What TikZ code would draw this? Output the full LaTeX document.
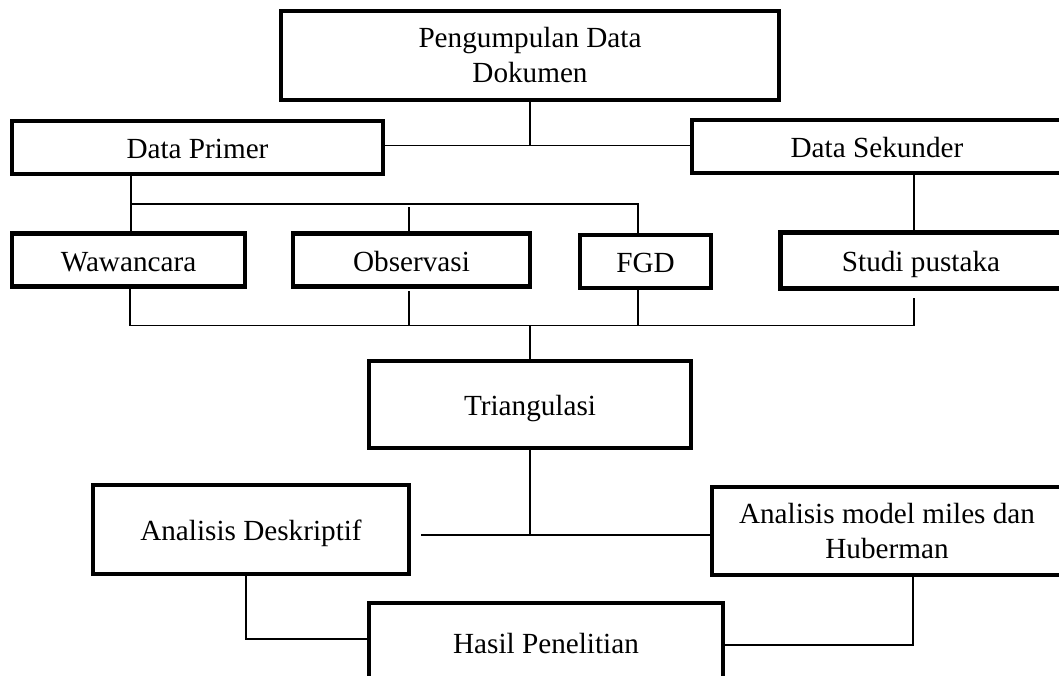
\documentclass[tikz,border=0pt]{standalone}
\usepackage{fontspec}
\setmainfont{Liberation Serif}
\begin{document}
\begin{tikzpicture}[x=1pt,y=-1pt,
  box/.style={draw=black,line width=4.4pt,inner sep=0pt,align=center,
    font=\fontsize{29.2}{35}\selectfont},
  onebox/.style={box,text height=22pt,text depth=0pt},
  conn/.style={draw=black,line width=1.6pt}]
\useasboundingbox (0,0) rectangle (1059,675);
\clip (0,0) rectangle (1059,675);
% boxes
\node[box,minimum width=498pt,minimum height=89pt] (top) at (530,55.5) {Pengumpulan Data\\Dokumen};
\node[onebox,minimum width=371pt,minimum height=53pt] (dp) at (197.5,147.5) {Data Primer};
\node[onebox,minimum width=370pt,minimum height=53pt] (ds) at (877,146.5) {Data Sekunder};
\node[onebox,minimum width=233pt,minimum height=53pt] (ww) at (128.5,260) {Wawancara};
\node[onebox,minimum width=237pt,minimum height=53pt] (ob) at (411.5,260) {Observasi};
\node[onebox,minimum width=131pt,minimum height=53pt] (fgd) at (645.5,261.5) {FGD};
\node[onebox,minimum width=281pt,minimum height=56pt] (sp) at (921,260.5) {Studi pustaka};
\node[onebox,minimum width=322pt,minimum height=87pt] (tri) at (530,404.5) {Triangulasi};
\node[onebox,minimum width=316pt,minimum height=89pt] (ad) at (251,529.5) {Analisis Deskriptif};
\node[box,minimum width=350pt,minimum height=88pt] (am) at (887,531) {Analisis model miles dan\\Huberman};
\node[onebox,minimum width=354pt,minimum height=78pt] (hp) at (546,642) {Hasil Penelitian};
% junction coordinates
\coordinate (j1) at (530,145.5);
\coordinate (b1) at (131,204);
\coordinate (b2) at (638,204);
\coordinate (b3) at (409,207);
\coordinate (c1) at (914,0);
\coordinate (d1) at (130,325.5);
\coordinate (d2) at (914,325.5);
\coordinate (o1) at (409,291);
\coordinate (s1) at (914,297.5);
\coordinate (f1) at (638,0);
\coordinate (t1) at (530,325.5);
\coordinate (t2) at (530,535);
\coordinate (t3) at (421,535);
\coordinate (h1) at (246,639);
\coordinate (h2) at (913,645);
% connectors
\draw[conn] (top.south) -- (j1);
\draw[conn] (dp.east |- j1) -- (ds.west |- j1);
\draw[conn] (dp.south -| b1) -- (ww.north -| b1);
\draw[conn] (b1) -- (b2) -- (fgd.north -| b2);
\draw[conn] (b3) -- (ob.north -| b3);
\draw[conn] (ds.south -| c1) -- (sp.north -| c1);
\draw[conn] (ww.south -| d1) -- (d1) -- (d2) -- (s1);
\draw[conn] (o1) -- (o1 |- d1);
\draw[conn] (fgd.south -| f1) -- (f1 |- d1);
\draw[conn] (t1) -- (tri.north);
\draw[conn] (tri.south) -- (t2);
\draw[conn] (t3) -- (am.west |- t3);
\draw[conn] (ad.south -| h1) -- (h1) -- (hp.west |- h1);
\draw[conn] (am.south -| h2) -- (h2) -- (hp.east |- h2);
\end{tikzpicture}
\end{document}
